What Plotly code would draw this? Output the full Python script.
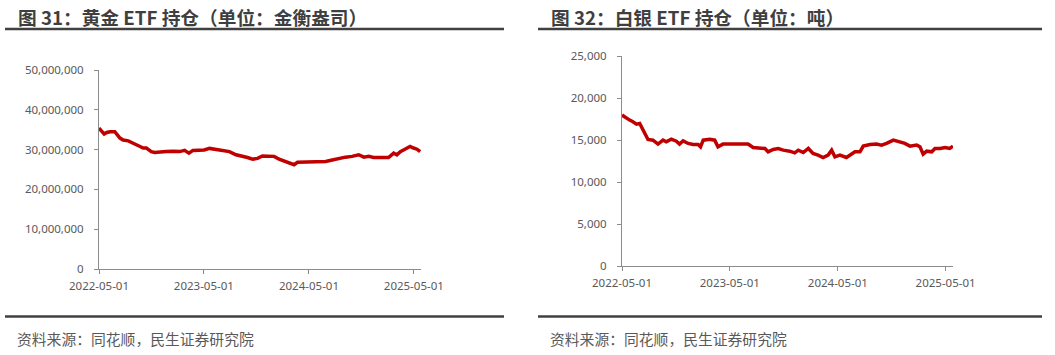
import plotly.graph_objects as go

W, H = 1055, 355

# ---------------- Data ----------------
gold_dates = [
    "2022-05-01", "2022-05-10", "2022-05-19", "2022-05-28", "2022-06-08", "2022-06-25",
    "2022-07-01", "2022-07-13", "2022-07-24", "2022-08-11", "2022-08-28", "2022-09-14",
    "2022-10-02", "2022-10-13", "2022-10-30", "2022-11-11", "2022-11-28", "2022-12-21",
    "2023-01-14", "2023-02-06", "2023-02-23", "2023-03-10", "2023-03-24", "2023-04-16",
    "2023-05-02", "2023-05-21", "2023-06-13", "2023-07-06", "2023-07-29", "2023-08-21",
    "2023-09-13", "2023-09-30", "2023-10-18", "2023-11-04", "2023-11-21", "2023-12-15",
    "2024-01-01", "2024-01-18", "2024-02-10", "2024-02-28", "2024-03-10", "2024-03-22",
    "2024-04-08", "2024-05-01", "2024-05-24", "2024-06-11", "2024-06-28", "2024-07-21",
    "2024-08-13", "2024-09-05", "2024-09-28", "2024-10-21", "2024-11-08", "2024-11-25",
    "2024-12-12", "2024-12-30", "2025-01-16", "2025-02-02", "2025-02-20", "2025-03-03",
    "2025-03-15", "2025-03-26", "2025-04-07", "2025-04-18", "2025-04-30", "2025-05-12",
    "2025-05-23",
]
gold_values = [
    35.4, 34.5, 33.9, 34.3, 34.5, 34.5,
    33.9, 32.9, 32.4, 32.2, 31.6, 30.9,
    30.4, 30.4, 29.5, 29.3, 29.3, 29.5,
    29.6, 29.5, 29.8, 29.1, 29.8, 29.9,
    29.9, 30.3, 30.1, 29.7, 29.5, 28.7,
    28.4, 28.0, 27.6, 27.8, 28.4, 28.3,
    28.3, 27.6, 27.0, 26.4, 26.2, 26.8,
    26.8, 26.8, 26.9, 26.8, 27.0, 27.4,
    27.8, 28.1, 28.3, 28.7, 28.1, 28.3,
    28.0, 28.1, 28.0, 28.0, 29.1, 28.7,
    29.5, 29.9, 30.4, 30.8, 30.4, 30.1,
    29.5,
]
gold_values = [v * 1_000_000 for v in gold_values]

silver_dates = [
    "2022-05-01", "2022-05-16", "2022-05-27", "2022-06-07", "2022-06-19", "2022-06-30",
    "2022-07-11", "2022-07-22", "2022-07-28", "2022-08-14", "2022-08-31", "2022-09-17",
    "2022-09-28", "2022-10-15", "2022-11-01", "2022-11-12", "2022-11-24", "2022-12-11",
    "2022-12-28", "2023-01-14", "2023-01-22", "2023-01-31", "2023-02-22", "2023-03-11",
    "2023-03-22", "2023-04-08", "2023-05-01", "2023-05-24", "2023-06-15", "2023-07-02",
    "2023-07-19", "2023-08-11", "2023-08-28", "2023-09-08", "2023-09-25", "2023-10-12",
    "2023-10-29", "2023-11-20", "2023-12-07", "2023-12-19", "2024-01-05", "2024-01-22",
    "2024-02-07", "2024-02-24", "2024-03-12", "2024-03-29", "2024-04-10", "2024-04-21",
    "2024-05-08", "2024-05-30", "2024-06-11", "2024-06-28", "2024-07-15", "2024-07-26",
    "2024-08-18", "2024-09-09", "2024-09-26", "2024-10-13", "2024-11-05", "2024-11-27",
    "2024-12-14", "2024-12-31", "2025-01-23", "2025-02-03", "2025-02-14", "2025-02-26",
    "2025-03-15", "2025-03-26", "2025-04-12", "2025-04-29", "2025-05-15", "2025-05-26",
]
silver_values = [
    17970, 17570, 17370, 17170, 16890, 16970,
    16180, 15380, 15060, 14980, 14510, 14980,
    14790, 15100, 14860, 14510, 14900, 14590,
    14470, 14470, 14190, 14980, 15100, 14980,
    14190, 14510, 14510, 14590, 14510, 14510,
    14110, 13990, 13990, 13590, 13870, 13990,
    13790, 13670, 13470, 13790, 13510, 13990,
    13390, 13200, 12920, 13200, 13790, 13000,
    13200, 12920, 13200, 13590, 13590, 14270,
    14470, 14510, 14390, 14590, 14980, 14790,
    14590, 14270, 14390, 14190, 13310, 13670,
    13590, 13990, 13990, 14110, 13990, 14270,
]

gold_yticks = [0, 10_000_000, 20_000_000, 30_000_000, 40_000_000, 50_000_000]
silver_yticks = [0, 5000, 10000, 15000, 20000, 25000]
x_ticks = ["2022-05-01", "2023-05-01", "2024-05-01", "2025-05-01"]

title_left = "图 31：黄金 ETF 持仓（单位：金衡盎司）"
title_right = "图 32：白银 ETF 持仓（单位：吨）"
source_text = "资料来源：同花顺，民生证券研究院"

# ---------------- Styling ----------------
RED = "#C00000"
AXIS = "#8c8c8c"
TICKC = "#595959"
TFONT = dict(family="Noto Sans, Open Sans, sans-serif", size=11.5, color=TICKC)


def px_x(p):
    return p / W


def px_y(p):
    return 1 - p / H


fig = go.Figure()
fig.add_trace(go.Scatter(x=gold_dates, y=gold_values, mode="lines",
                         line=dict(color=RED, width=3.5), xaxis="x", yaxis="y",
                         showlegend=False, hoverinfo="skip"))
fig.add_trace(go.Scatter(x=silver_dates, y=silver_values, mode="lines",
                         line=dict(color=RED, width=3.5), xaxis="x2", yaxis="y2",
                         showlegend=False, hoverinfo="skip"))

common_x = dict(type="date", tickvals=x_ticks, ticktext=x_ticks, ticks="outside",
                ticklen=4, tickcolor=AXIS, showline=True, linecolor=AXIS, linewidth=1,
                showgrid=False, zeroline=False, tickfont=TFONT, fixedrange=True,
                automargin=False, ticklabelstandoff=2,
                range=["2022-05-01", "2025-05-26"])
common_y = dict(ticks="outside", ticklen=4, tickcolor=AXIS, showline=True,
                linecolor=AXIS, linewidth=1, showgrid=False, zeroline=False,
                tickfont=TFONT, tickformat=",d", fixedrange=True, automargin=False,
                ticklabelstandoff=8)

fig.update_layout(
    width=W, height=H,
    margin=dict(l=0, r=0, t=0, b=0, autoexpand=False),
    paper_bgcolor="white", plot_bgcolor="white",
    xaxis=dict(common_x, domain=[px_x(99), px_x(421)], anchor="y"),
    yaxis=dict(common_y, domain=[px_y(269), px_y(70)], anchor="x",
               range=[0, 50_000_000], tickvals=gold_yticks),
    xaxis2=dict(common_x, domain=[px_x(622), px_x(953)], anchor="y2"),
    yaxis2=dict(common_y, domain=[px_y(266), px_y(56)], anchor="x2",
                range=[0, 25000], tickvals=silver_yticks),
)

shapes = []
for x0, x1 in [(5, 504), (538, 1042)]:
    shapes.append(dict(type="line", xref="paper", yref="paper",
                       x0=px_x(x0), x1=px_x(x1), y0=px_y(29), y1=px_y(29),
                       line=dict(color="#404040", width=2.5)))
    shapes.append(dict(type="line", xref="paper", yref="paper",
                       x0=px_x(x0), x1=px_x(x1), y0=px_y(316.5), y1=px_y(316.5),
                       line=dict(color="#404040", width=2.5)))
fig.update_layout(shapes=shapes)

ann = []
for x, t in [(16, title_left), (549, title_right)]:
    ann.append(dict(text="<b>" + t + "</b>", xref="paper", yref="paper",
                    x=px_x(x), y=px_y(16), xanchor="left", yanchor="middle",
                    showarrow=False,
                    font=dict(family="Noto Sans CJK SC, sans-serif", size=18.7,
                              color="#3f3f3f")))
for x in [15, 548]:
    ann.append(dict(text=source_text, xref="paper", yref="paper",
                    x=px_x(x), y=px_y(338), xanchor="left", yanchor="middle",
                    showarrow=False,
                    font=dict(family="Noto Sans CJK SC, sans-serif", size=14.8,
                              color="#595959")))
fig.update_layout(annotations=ann)

fig.write_html("out.html", config={"displayModeBar": False})
